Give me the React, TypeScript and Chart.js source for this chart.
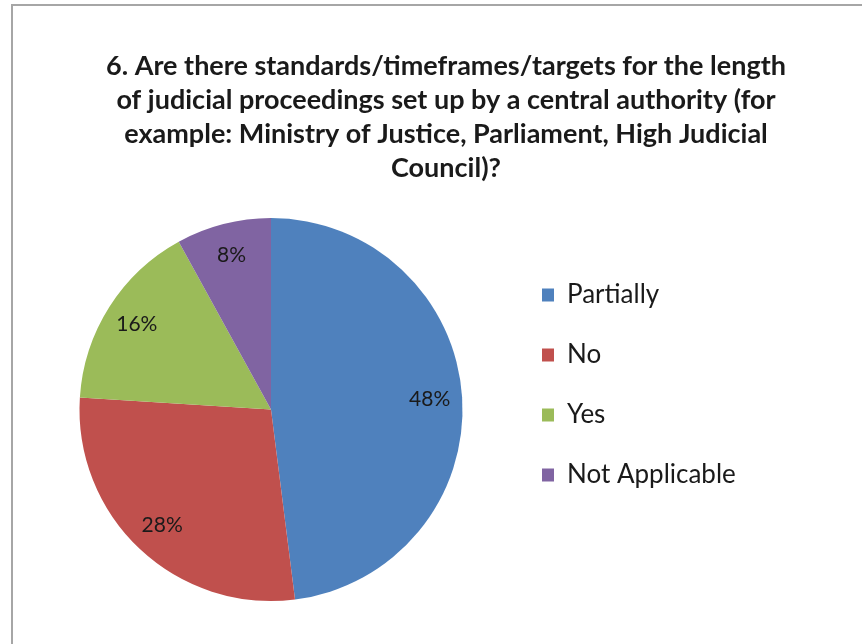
import { useEffect, useRef } from 'react';
import { Chart, registerables } from 'chart.js';

Chart.register(...registerables);

const CATEGORIES = ['Partially', 'No', 'Yes', 'Not Applicable'];
const SHARES = [48, 28, 16, 8];
const SLICE_COLORS = ['#4F81BD', '#C0504D', '#9BBB59', '#8064A2'];
const TITLE_LINES = [
  '6. Are there standards/timeframes/targets for the length',
  'of judicial proceedings set up by a central authority (for',
  'example: Ministry of Justice, Parliament, High Judicial',
  'Council)?',
];

const FONT = 'Lato, "Open Sans", sans-serif';

const sliceLabels = {
  id: 'sliceLabels',
  afterDatasetsDraw(chart: any) {
    const { ctx } = chart;
    const meta = chart.getDatasetMeta(0);
    const values = chart.data.datasets[0].data;
    ctx.save();
    ctx.font = `21px ${FONT}`;
    ctx.fillStyle = '#1a1a1a';
    ctx.textAlign = 'center';
    ctx.textBaseline = 'middle';
    meta.data.forEach((arc: any, i: number) => {
      const { x, y, startAngle, endAngle, outerRadius } = arc.getProps(
        ['x', 'y', 'startAngle', 'endAngle', 'outerRadius'],
        true
      );
      const mid = (startAngle + endAngle) / 2;
      const r = outerRadius * 0.83;
      ctx.fillText(`${values[i]}%`, x + Math.cos(mid) * r, y + Math.sin(mid) * r);
    });
    ctx.restore();
  },
};

// Gives the right-hand legend box a fixed width so the pie and the title
// can be centred independently (as in the original Excel chart).
const fixedLegendWidth = {
  id: 'fixedLegendWidth',
  afterInit(chart: any, _args: any, opts: any) {
    const legend = chart.legend;
    if (!legend || legend.__fixed) return;
    const fit = legend.fit.bind(legend);
    legend.fit = () => {
      fit();
      legend.width = opts.width;
    };
    legend.__fixed = true;
  },
};

export default function App() {
  const canvasRef = useRef<HTMLCanvasElement | null>(null);

  useEffect(() => {
    if (!canvasRef.current) return;
    const chart = new Chart(canvasRef.current, {
      type: 'pie',
      data: {
        labels: CATEGORIES,
        datasets: [
          {
            data: SHARES,
            backgroundColor: SLICE_COLORS,
            borderWidth: 0,
          },
        ],
      },
      options: {
        responsive: false,
        animation: false,
        devicePixelRatio: 1,
        layout: { padding: { top: 0, left: 34, right: 4, bottom: 43 } },
        plugins: {
          title: {
            display: true,
            text: TITLE_LINES,
            color: '#1a1a1a',
            font: { family: FONT, size: 27, weight: 'bold', lineHeight: 34 / 27 },
            padding: { top: 49, bottom: 33 },
          },
          legend: {
            display: true,
            position: 'right',
            fullSize: true,
            title: {
              display: true,
              text: ' ',
              font: { size: 10, lineHeight: 1 },
              padding: { top: 159, bottom: 0 },
            },
            labels: {
              color: '#1a1a1a',
              font: { family: FONT, size: 26 },
              boxWidth: 12,
              boxHeight: 13,
              padding: 34,
            },
          },
          tooltip: { enabled: false },
          fixedLegendWidth: { width: 350 },
        } as any,
      },
      plugins: [sliceLabels, fixedLegendWidth],
    });
    return () => chart.destroy();
  }, []);

  return (
    <div
      style={{
        position: 'absolute',
        left: 0,
        top: 0,
        width: 862,
        height: 644,
        overflow: 'hidden',
        background: '#ffffff',
      }}
    >
      <div
        style={{
          position: 'absolute',
          left: 11,
          top: 4,
          width: 900,
          height: 700,
          borderLeft: '2px solid #a6a6a6',
          borderTop: '2px solid #a6a6a6',
        }}
      />
      <canvas
        ref={canvasRef}
        width={862}
        height={644}
        style={{ position: 'absolute', left: 0, top: 0, width: 862, height: 644 }}
      />
    </div>
  );
}
